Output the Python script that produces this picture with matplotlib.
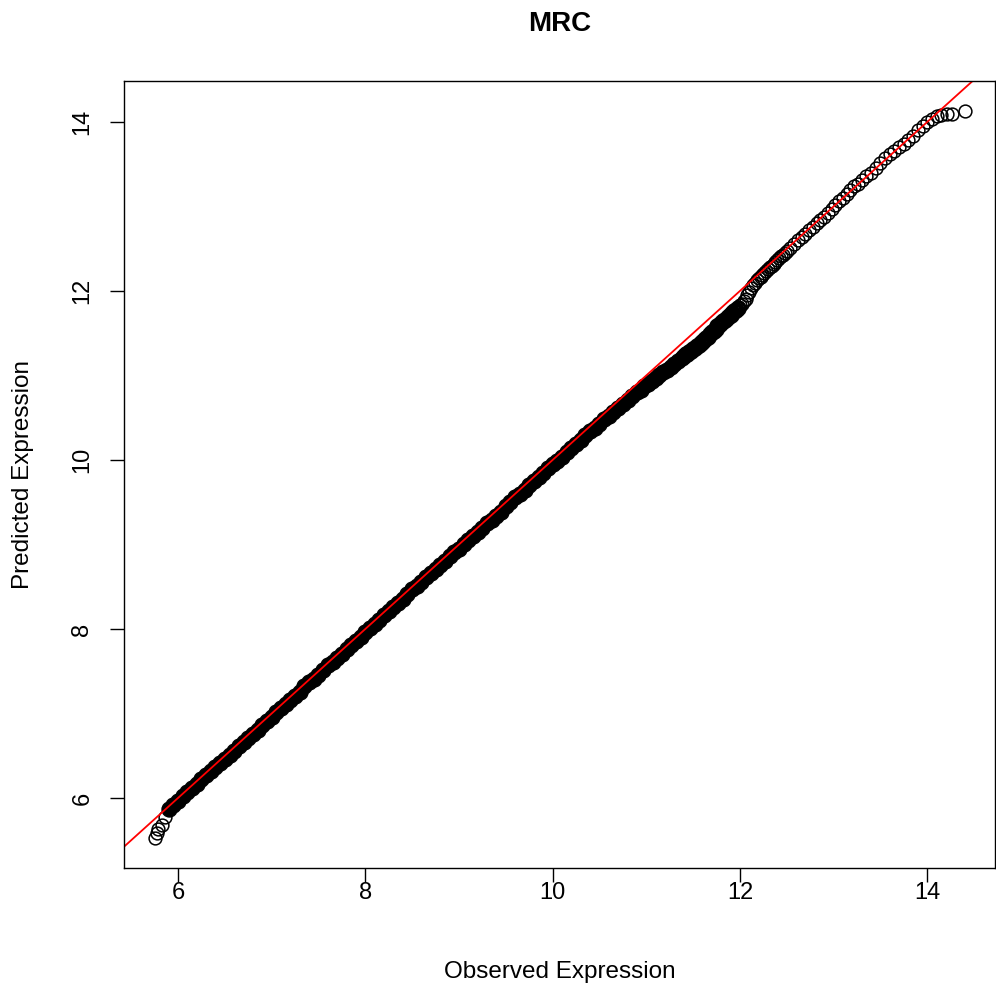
import matplotlib
matplotlib.use("Agg")
import matplotlib.pyplot as plt

plt.rcParams["font.family"] = ["Liberation Sans", "DejaVu Sans"]

TITLE = "MRC"
XLABEL = "Observed Expression"
YLABEL = "Predicted Expression"
TICKS = [6, 8, 10, 12, 14]

# low tail, drawn as separate open circles
tail_low_obs = [5.754, 5.776, 5.786, 5.829, 5.861]
tail_low_pred = [5.527, 5.586, 5.633, 5.680, 5.775]

# dense body of the QQ band (solid black in the picture)
body_obs = [
    5.90, 5.95, 6.00, 6.05, 6.10, 6.15, 6.20, 6.25, 6.30, 6.35,
    6.40, 6.45, 6.50, 6.55, 6.60, 6.65, 6.70, 6.75, 6.80, 6.85,
    6.90, 6.95, 7.00, 7.05, 7.10, 7.15, 7.20, 7.25, 7.30, 7.35,
    7.40, 7.45, 7.50, 7.55, 7.60, 7.65, 7.70, 7.75, 7.80, 7.85,
    7.90, 7.95, 8.00, 8.05, 8.10, 8.15, 8.20, 8.25, 8.30, 8.35,
    8.40, 8.45, 8.50, 8.55, 8.60, 8.65, 8.70, 8.75, 8.80, 8.85,
    8.90, 8.95, 9.00, 9.05, 9.10, 9.15, 9.20, 9.25, 9.30, 9.35,
    9.40, 9.45, 9.50, 9.55, 9.60, 9.65, 9.70, 9.75, 9.80, 9.85,
    9.90, 9.95, 10.00, 10.05, 10.10, 10.15, 10.20, 10.25, 10.30, 10.35,
    10.40, 10.45, 10.50, 10.55, 10.60, 10.65, 10.70, 10.75, 10.80, 10.85,
    10.90, 10.94, 10.98, 11.02, 11.06, 11.10, 11.14, 11.18, 11.22, 11.26,
    11.30, 11.34, 11.38,
]
body_pred = [
    5.87, 5.92, 5.97, 6.02, 6.07, 6.12, 6.17, 6.22, 6.27, 6.32,
    6.37, 6.41, 6.46, 6.51, 6.56, 6.61, 6.66, 6.71, 6.76, 6.81,
    6.86, 6.91, 6.96, 7.02, 7.07, 7.11, 7.16, 7.21, 7.26, 7.32,
    7.37, 7.41, 7.46, 7.51, 7.57, 7.61, 7.66, 7.71, 7.76, 7.81,
    7.86, 7.91, 7.96, 8.01, 8.06, 8.11, 8.16, 8.21, 8.26, 8.31,
    8.36, 8.42, 8.47, 8.51, 8.56, 8.61, 8.66, 8.71, 8.76, 8.81,
    8.86, 8.91, 8.95, 9.00, 9.05, 9.10, 9.15, 9.20, 9.25, 9.29,
    9.34, 9.39, 9.45, 9.50, 9.56, 9.60, 9.65, 9.70, 9.75, 9.80,
    9.85, 9.90, 9.95, 9.99, 10.04, 10.09, 10.14, 10.19, 10.24, 10.29,
    10.34, 10.38, 10.43, 10.48, 10.52, 10.57, 10.62, 10.66, 10.71, 10.76,
    10.80, 10.83, 10.87, 10.90, 10.93, 10.97, 11.00, 11.04, 11.07, 11.10,
    11.14, 11.17, 11.21,
]

# crowded overlapping circles (dark, textured in the picture)
mid_obs = [
    11.40, 11.42, 11.44, 11.46, 11.48, 11.50, 11.52, 11.54, 11.56, 11.58,
    11.60, 11.62, 11.64, 11.66, 11.68, 11.70, 11.72, 11.74, 11.76, 11.78,
    11.80, 11.82, 11.84, 11.86, 11.88, 11.90, 11.92, 11.94, 11.96, 11.98,
]
mid_pred = [
    11.23, 11.25, 11.26, 11.28, 11.29, 11.31, 11.33, 11.35, 11.36, 11.38,
    11.40, 11.42, 11.44, 11.46, 11.49, 11.51, 11.53, 11.55, 11.58, 11.60,
    11.62, 11.64, 11.66, 11.68, 11.70, 11.72, 11.74, 11.76, 11.78, 11.80,
]

# upper part where single circles become visible
upper_obs = [
    12.00, 12.02, 12.04, 12.06, 12.08, 12.10, 12.12, 12.14, 12.16, 12.18,
    12.20, 12.22, 12.24, 12.26, 12.28, 12.30, 12.32, 12.34, 12.36, 12.38,
    12.40, 12.42, 12.44, 12.46, 12.48, 12.50, 12.54, 12.58, 12.62, 12.66,
    12.70, 12.74, 12.78, 12.82, 12.86, 12.90, 12.94, 12.98, 13.02, 13.06,
    13.10, 13.14, 13.18, 13.22, 13.26, 13.30, 13.35, 13.40, 13.45, 13.50,
    13.55, 13.60, 13.65, 13.70, 13.75, 13.80, 13.85, 13.90, 13.95, 14.00,
    14.05, 14.10, 14.15, 14.21, 14.26, 14.40,
]
upper_pred = [
    11.83, 11.85, 11.88, 11.91, 11.95, 11.99, 12.03, 12.07, 12.10, 12.13,
    12.15, 12.17, 12.19, 12.21, 12.24, 12.26, 12.28, 12.30, 12.32, 12.34,
    12.37, 12.39, 12.41, 12.43, 12.45, 12.47, 12.51, 12.56, 12.60, 12.64,
    12.68, 12.72, 12.76, 12.80, 12.84, 12.87, 12.92, 12.97, 13.02, 13.07,
    13.10, 13.15, 13.20, 13.24, 13.27, 13.31, 13.36, 13.40, 13.46, 13.52,
    13.57, 13.62, 13.66, 13.70, 13.74, 13.79, 13.84, 13.90, 13.95, 14.00,
    14.04, 14.07, 14.08, 14.09, 14.10, 14.13,
]

fig = plt.figure(figsize=(9.96, 9.91), dpi=100)
ax = fig.add_axes([124 / 996, 1 - 868 / 991, 871 / 996, 787 / 991])

ax.plot(body_obs, body_pred, marker="o", linestyle="none", markersize=10.8,
        markeredgewidth=1.0, markeredgecolor="black", markerfacecolor="black")
ax.plot(mid_obs, mid_pred, marker="o", linestyle="none", markersize=9.8,
        markeredgewidth=2.2, markeredgecolor="black", markerfacecolor="none")
for xs, ys in [(tail_low_obs, tail_low_pred), (upper_obs, upper_pred)]:
    ax.plot(xs, ys, marker="o", linestyle="none", markersize=9.2,
            markeredgewidth=1.1, markeredgecolor="black", markerfacecolor="none")

# identity line, abline(0, 1)
ax.axline((0, 0), slope=1, color="red", linewidth=1.3)

ax.set_xlim(5.4234, 14.724)
ax.set_ylim(5.1716, 14.485)
ax.set_xticks(TICKS)
ax.set_yticks(TICKS)
ax.tick_params(direction="out", length=10, width=1.0, labelsize=17)
ax.tick_params(axis="x", pad=0)
ax.tick_params(axis="y", pad=12)
for label in ax.get_yticklabels():
    label.set_rotation(90)
    label.set_va("center")
for spine in ax.spines.values():
    spine.set_linewidth(1.0)

ax.set_title(TITLE, fontsize=20, fontweight="bold", pad=36)
ax.set_xlabel(XLABEL, fontsize=17.5, labelpad=41)
ax.set_ylabel(YLABEL, fontsize=17.5, labelpad=27)

fig.savefig("out.png", dpi=100)
